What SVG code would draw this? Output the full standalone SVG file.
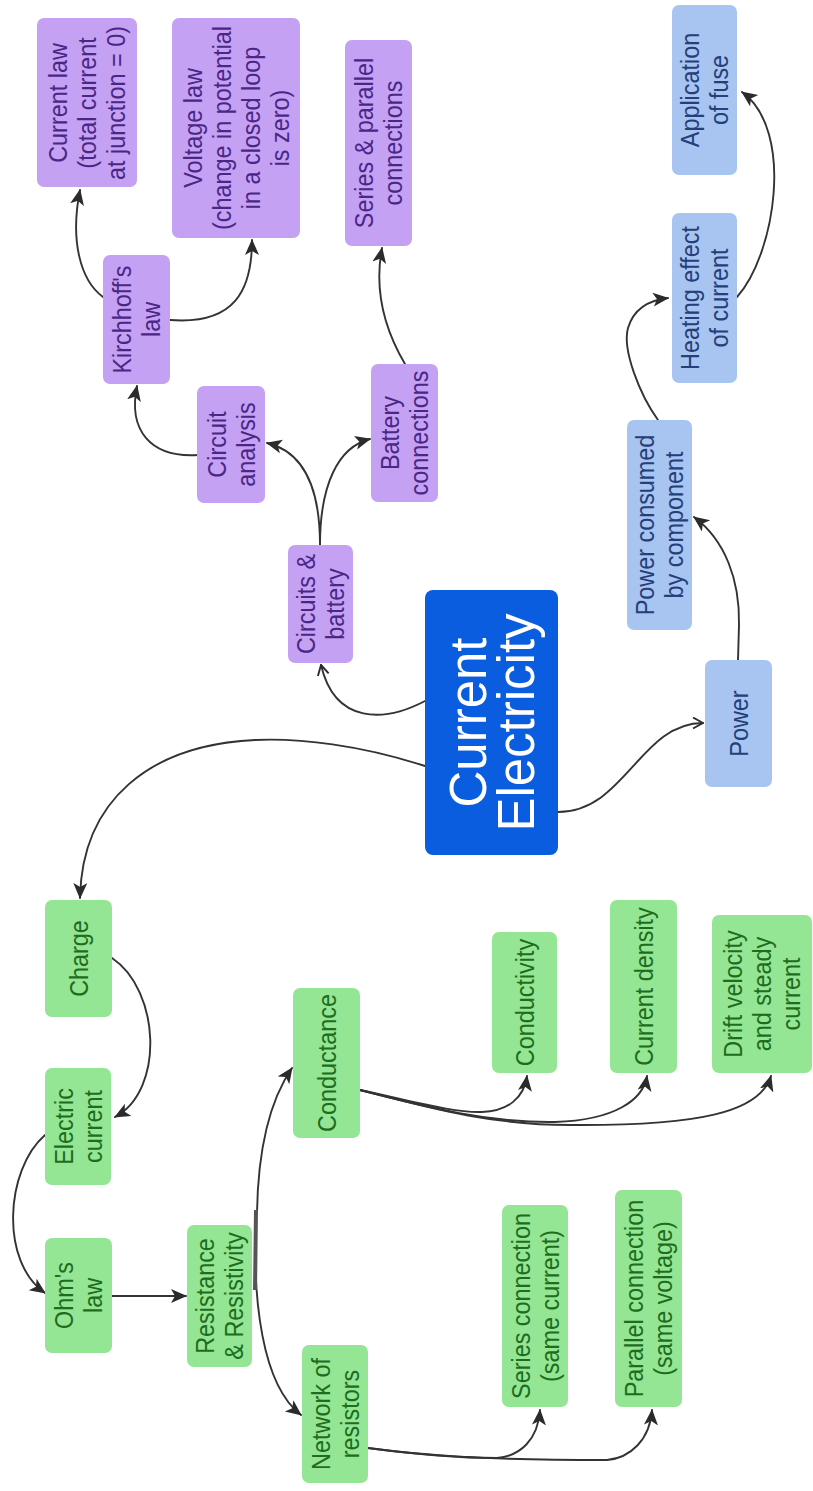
<svg xmlns="http://www.w3.org/2000/svg" width="813" height="1491" viewBox="0 0 813 1491">
  <defs>
    <style>
      .bg { fill: #ffffff; }
      .np { fill: #c5a1f3; }
      .ng { fill: #94e594; }
      .nb { fill: #a8c4f0; }
      .nc { fill: #0a5ddf; }
      text { font-family: "Liberation Sans", Arial, sans-serif; font-size: 26px; text-anchor: middle; dominant-baseline: central; }
      .tp { fill: #4a2787; }
      .tg { fill: #1d6d1d; }
      .tb { fill: #243f7a; }
      .tc { fill: #ffffff; font-size: 51px; }
      .edge { fill: none; stroke: #333333; stroke-width: 1.9; stroke-linecap: round; }
    </style>
    <marker id="arr" markerUnits="userSpaceOnUse" markerWidth="18" markerHeight="16" refX="15" refY="7" orient="auto">
      <path d="M0,0 L16,7 L0,14 L4,7 z" fill="#2b2b2b"/>
    </marker>
    <marker id="chev" markerUnits="userSpaceOnUse" markerWidth="14" markerHeight="14" refX="11" refY="6" orient="auto">
      <path d="M1,0.5 L11,6 L1,11.5" fill="none" stroke="#2b2b2b" stroke-width="1.9" stroke-linejoin="round"/>
    </marker>
  </defs>

  <rect class="bg" x="0" y="0" width="813" height="1491"/>

  <!-- connectors -->
  <g id="connectors">
    <path class="edge" d="M103,297 C 80,280 70,240 80,190" marker-end="url(#arr)"/>
    <path class="edge" d="M170,320 C 235,325 252,290 252,240" marker-end="url(#arr)"/>
    <path class="edge" d="M198,455 C 150,458 128,430 137,386" marker-end="url(#arr)"/>
    <path class="edge" d="M320,545 C 320,490 305,452 267,443" marker-end="url(#arr)"/>
    <path class="edge" d="M320,545 C 320,485 338,447 370,439" marker-end="url(#arr)"/>
    <path class="edge" d="M405,364 C 385,330 374,290 382,248" marker-end="url(#arr)"/>
    <path class="edge" d="M425,701 C 385,722 335,725 321,665" marker-end="url(#chev)"/>
    <path class="edge" d="M425,766 C 360,745 300,738 255,740 C 150,745 82,800 80,898" marker-end="url(#arr)"/>
    <path class="edge" d="M558,812 C 625,812 640,723 703,723" marker-end="url(#chev)"/>
    <path class="edge" d="M738,660 L739,625 C 740,580 725,540 694,517" marker-end="url(#arr)"/>
    <path class="edge" d="M658,420 C 640,395 622,350 628,328 C 634,308 650,300 668,298" marker-end="url(#arr)"/>
    <path class="edge" d="M737,297 C 775,255 795,130 742,92" marker-end="url(#arr)"/>
    <path class="edge" d="M112,958 C 160,990 165,1090 115,1117" marker-end="url(#arr)"/>
    <path class="edge" d="M45,1135 C 5,1170 0,1262 45,1293" marker-end="url(#arr)"/>
    <path class="edge" d="M112,1296 L186,1296" marker-end="url(#arr)"/>
    <path class="edge" d="M257,1213 C 258,1150 270,1100 292,1068" marker-end="url(#arr)"/>
    <path class="edge" d="M256,1213 C 252,1300 262,1385 301,1415" marker-end="url(#arr)"/>
    <line x1="256" y1="1210" x2="255" y2="1290" stroke="#555555" stroke-width="4"/>
    <path class="edge" d="M360,1090 C 420,1103 455,1113 482,1112 C 508,1111 524,1098 527,1076" marker-end="url(#arr)"/>
    <path class="edge" d="M360,1090 C 430,1108 490,1123 555,1122 C 615,1120 643,1100 647,1076" marker-end="url(#arr)"/>
    <path class="edge" d="M360,1090 C 430,1108 490,1125 570,1125 C 700,1126 760,1112 771,1076" marker-end="url(#arr)"/>
    <path class="edge" d="M368,1448 C 420,1455 470,1458 497,1458 C 520,1456 538,1440 540,1410" marker-end="url(#arr)"/>
    <path class="edge" d="M368,1448 C 420,1455 480,1460 607,1460 C 630,1458 650,1440 652,1410" marker-end="url(#arr)"/>
  </g>

  <!-- circuits branch (purple) -->
  <g id="n-current-law">
    <rect class="np" x="37" y="18" width="100" height="169" rx="7"/>
    <text class="tp" transform="translate(87,103) rotate(-90) scale(0.9,1)"><tspan x="0" y="-29">Current law</tspan><tspan x="0" y="0">(total current</tspan><tspan x="0" y="29">at junction = 0)</tspan></text>
  </g>
  <g id="n-voltage-law">
    <rect class="np" x="172" y="18" width="128" height="220" rx="7"/>
    <text class="tp" transform="translate(236,128) rotate(-90) scale(0.9,1)"><tspan x="0" y="-43.5">Voltage law</tspan><tspan x="0" y="-14.5">(change in potential</tspan><tspan x="0" y="14.5">in a closed loop</tspan><tspan x="0" y="43.5">is zero)</tspan></text>
  </g>
  <g id="n-series-parallel">
    <rect class="np" x="345" y="40" width="67" height="206" rx="7"/>
    <text class="tp" transform="translate(378.5,143) rotate(-90) scale(0.9,1)"><tspan x="0" y="-14.5">Series &amp; parallel</tspan><tspan x="0" y="14.5">connections</tspan></text>
  </g>
  <g id="n-kirchhoff">
    <rect class="np" x="103" y="255" width="67" height="129" rx="7"/>
    <text class="tp" transform="translate(136.5,319.5) rotate(-90) scale(0.9,1)"><tspan x="0" y="-14.5">Kirchhoff's</tspan><tspan x="0" y="14.5">law</tspan></text>
  </g>
  <g id="n-circuit-analysis">
    <rect class="np" x="197" y="386" width="68" height="117" rx="7"/>
    <text class="tp" transform="translate(231,444.5) rotate(-90) scale(0.9,1)"><tspan x="0" y="-14.5">Circuit</tspan><tspan x="0" y="14.5">analysis</tspan></text>
  </g>
  <g id="n-battery-connections">
    <rect class="np" x="371" y="364" width="67" height="138" rx="7"/>
    <text class="tp" transform="translate(404.5,433) rotate(-90) scale(0.9,1)"><tspan x="0" y="-14.5">Battery</tspan><tspan x="0" y="14.5">connections</tspan></text>
  </g>
  <g id="n-circuits-battery">
    <rect class="np" x="288" y="545" width="65" height="118" rx="7"/>
    <text class="tp" transform="translate(320.5,604) rotate(-90) scale(0.9,1)"><tspan x="0" y="-14.5">Circuits &amp;</tspan><tspan x="0" y="14.5">battery</tspan></text>
  </g>

  <!-- central topic -->
  <g id="n-current-electricity">
    <rect class="nc" x="425" y="590" width="133" height="265" rx="8"/>
    <text class="tc" transform="translate(491.5,722.5) rotate(-90)"><tspan x="0" y="-24">Current</tspan><tspan x="0" y="24">Electricity</tspan></text>
  </g>

  <!-- power branch (blue) -->
  <g id="n-power">
    <rect class="nb" x="705" y="660" width="67" height="127" rx="7"/>
    <text class="tb" transform="translate(738.5,723.5) rotate(-90) scale(0.9,1)"><tspan x="0" y="0">Power</tspan></text>
  </g>
  <g id="n-power-consumed">
    <rect class="nb" x="627" y="420" width="65" height="210" rx="7"/>
    <text class="tb" transform="translate(659.5,525) rotate(-90) scale(0.9,1)"><tspan x="0" y="-14.5">Power consumed</tspan><tspan x="0" y="14.5">by component</tspan></text>
  </g>
  <g id="n-heating-effect">
    <rect class="nb" x="672" y="213" width="65" height="170" rx="7"/>
    <text class="tb" transform="translate(704.5,298) rotate(-90) scale(0.9,1)"><tspan x="0" y="-14.5">Heating effect</tspan><tspan x="0" y="14.5">of current</tspan></text>
  </g>
  <g id="n-fuse">
    <rect class="nb" x="672" y="5" width="65" height="170" rx="7"/>
    <text class="tb" transform="translate(704.5,90) rotate(-90) scale(0.9,1)"><tspan x="0" y="-14.5">Application</tspan><tspan x="0" y="14.5">of fuse</tspan></text>
  </g>

  <!-- charge and resistance branch (green) -->
  <g id="n-charge">
    <rect class="ng" x="45" y="900" width="67" height="117" rx="7"/>
    <text class="tg" transform="translate(78.5,958.5) rotate(-90) scale(0.9,1)"><tspan x="0" y="0">Charge</tspan></text>
  </g>
  <g id="n-electric-current">
    <rect class="ng" x="45" y="1068" width="66" height="117" rx="7"/>
    <text class="tg" transform="translate(78,1126.5) rotate(-90) scale(0.9,1)"><tspan x="0" y="-14.5">Electric</tspan><tspan x="0" y="14.5">current</tspan></text>
  </g>
  <g id="n-conductance">
    <rect class="ng" x="293" y="988" width="67" height="150" rx="7"/>
    <text class="tg" transform="translate(326.5,1063) rotate(-90) scale(0.9,1)"><tspan x="0" y="0">Conductance</tspan></text>
  </g>
  <g id="n-conductivity">
    <rect class="ng" x="492" y="932" width="65" height="141" rx="7"/>
    <text class="tg" transform="translate(524.5,1002.5) rotate(-90) scale(0.9,1)"><tspan x="0" y="0">Conductivity</tspan></text>
  </g>
  <g id="n-current-density">
    <rect class="ng" x="610" y="900" width="67" height="173" rx="7"/>
    <text class="tg" transform="translate(643.5,986.5) rotate(-90) scale(0.9,1)"><tspan x="0" y="0">Current density</tspan></text>
  </g>
  <g id="n-drift-velocity">
    <rect class="ng" x="712" y="915" width="100" height="158" rx="7"/>
    <text class="tg" transform="translate(762,994) rotate(-90) scale(0.9,1)"><tspan x="0" y="-29">Drift velocity</tspan><tspan x="0" y="0">and steady</tspan><tspan x="0" y="29">current</tspan></text>
  </g>
  <g id="n-ohms-law">
    <rect class="ng" x="45" y="1238" width="67" height="115" rx="7"/>
    <text class="tg" transform="translate(78.5,1295.5) rotate(-90) scale(0.9,1)"><tspan x="0" y="-14.5">Ohm's</tspan><tspan x="0" y="14.5">law</tspan></text>
  </g>
  <g id="n-resistance">
    <rect class="ng" x="187" y="1225" width="65" height="142" rx="7"/>
    <text class="tg" transform="translate(219.5,1296) rotate(-90) scale(0.9,1)"><tspan x="0" y="-14.5">Resistance</tspan><tspan x="0" y="14.5">&amp; Resistivity</tspan></text>
  </g>
  <g id="n-network">
    <rect class="ng" x="302" y="1345" width="66" height="138" rx="7"/>
    <text class="tg" transform="translate(335,1414) rotate(-90) scale(0.9,1)"><tspan x="0" y="-14.5">Network of</tspan><tspan x="0" y="14.5">resistors</tspan></text>
  </g>
  <g id="n-series-connection">
    <rect class="ng" x="502" y="1205" width="66" height="202" rx="7"/>
    <text class="tg" transform="translate(535,1306) rotate(-90) scale(0.9,1)"><tspan x="0" y="-14.5">Series connection</tspan><tspan x="0" y="14.5">(same current)</tspan></text>
  </g>
  <g id="n-parallel-connection">
    <rect class="ng" x="615" y="1190" width="67" height="217" rx="7"/>
    <text class="tg" transform="translate(648.5,1298.5) rotate(-90) scale(0.9,1)"><tspan x="0" y="-14.5">Parallel connection</tspan><tspan x="0" y="14.5">(same voltage)</tspan></text>
  </g>
</svg>
